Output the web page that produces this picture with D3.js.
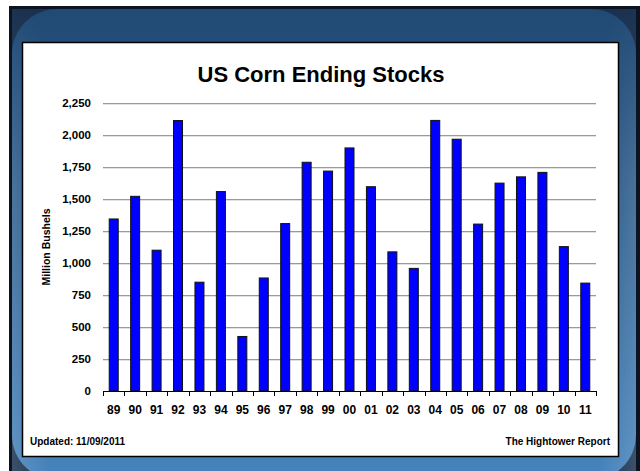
<!DOCTYPE html>
<html><head><meta charset="utf-8">
<script src="https://cdn.jsdelivr.net/npm/d3@7"></script>
<style>body{margin:0;background:#fff}svg{display:block}text{font-family:"Liberation Sans",Arial,sans-serif}</style>
</head><body><div id="c"></div>
<script>
const years = ["89","90","91","92","93","94","95","96","97","98","99","00","01","02","03","04","05","06","07","08","09","10","11"];
const stocks = [1344,1521,1100,2113,850,1558,426,883,1308,1787,1718,1899,1596,1087,958,2114,1967,1304,1624,1673,1708,1128,843];
const yTicks = [0,250,500,750,1000,1250,1500,1750,2000,2250];
const title = "US Corn Ending Stocks";
const yLabel = "Million Bushels";
const footLeft = "Updated: 11/09/2011";
const footRight = "The Hightower Report";

const W=640,H=471;
const svg=d3.select("#c").append("svg").attr("width",W).attr("height",H);
const defs=svg.append("defs");
const g1=defs.append("linearGradient").attr("id","bg").attr("x1",0).attr("y1",0).attr("x2",0).attr("y2",1);
g1.append("stop").attr("offset","0%").attr("stop-color","#214a74");
g1.append("stop").attr("offset","40%").attr("stop-color","#2a5b8a");
g1.append("stop").attr("offset","100%").attr("stop-color","#4684bd");
const g2=defs.append("linearGradient").attr("id","bg2").attr("x1",0).attr("y1",0).attr("x2",1).attr("y2",0);
g2.append("stop").attr("offset","0%").attr("stop-color","#ffffff").attr("stop-opacity",0.15);
g2.append("stop").attr("offset","6%").attr("stop-color","#ffffff").attr("stop-opacity",0);
g2.append("stop").attr("offset","94%").attr("stop-color","#ffffff").attr("stop-opacity",0);
g2.append("stop").attr("offset","100%").attr("stop-color","#ffffff").attr("stop-opacity",0.15);
const g3=defs.append("linearGradient").attr("id","fade").attr("x1",0).attr("y1",0).attr("x2",0).attr("y2",1);
g3.append("stop").attr("offset","0%").attr("stop-color","#fff").attr("stop-opacity",0);
g3.append("stop").attr("offset","40%").attr("stop-color","#fff").attr("stop-opacity",1);
g3.append("stop").attr("offset","100%").attr("stop-color","#fff").attr("stop-opacity",1);
const m=defs.append("mask").attr("id","fm");
m.append("rect").attr("x",0).attr("y",0).attr("width",W).attr("height",H).attr("fill","url(#fade)");

// frame
svg.append("rect").attr("x",9).attr("y",6).attr("width",W).attr("height",H).attr("fill","#0b1420");
svg.append("rect").attr("x",12).attr("y",9).attr("width",W).attr("height",H).attr("fill","#1a3250");
svg.append("rect").attr("x",12).attr("y",9).attr("width",624).attr("height",H).attr("rx",45).attr("fill","url(#bg)");
svg.append("rect").attr("x",12).attr("y",9).attr("width",624).attr("height",H).attr("fill","url(#bg2)").attr("mask","url(#fm)");
svg.append("rect").attr("x",636).attr("y",6).attr("width",4).attr("height",H).attr("fill","#0b1420");

// panel
svg.append("rect").attr("x",22.5).attr("y",42.5).attr("width",596).attr("height",414).attr("fill","#fff").attr("stroke","#000").attr("stroke-width",1.5);

const x0=103,x1=596,y0=391,y1=103;
const x=d3.scaleBand().domain(years).range([x0,x1]).paddingInner(0.58).paddingOuter(0.29);
const xb=d3.scaleBand().domain(years).range([x0,x1]);
const y=d3.scaleLinear().domain([0,2250]).range([y0,y1]);

// gridlines
svg.append("g").selectAll("line").data(yTicks.filter(d=>d>0)).join("line")
 .attr("x1",x0).attr("x2",x1).attr("y1",d=>Math.round(y(d))+0.5).attr("y2",d=>Math.round(y(d))+0.5)
 .attr("stroke","#9a9a9a").attr("stroke-width",1);
svg.append("g").selectAll("line").data(yTicks.filter(d=>d>0)).join("line")
 .attr("x1",x0).attr("x2",x1).attr("y1",d=>Math.round(y(d))+1.5).attr("y2",d=>Math.round(y(d))+1.5)
 .attr("stroke","#e2e2e2").attr("stroke-width",1);

// bars
svg.append("g").selectAll("rect").data(years).join("rect")
 .attr("x",(d)=>x(d)).attr("width",x.bandwidth())
 .attr("y",(d,i)=>y(stocks[i])).attr("height",(d,i)=>y0-y(stocks[i]))
 .attr("fill","#0000ff").attr("stroke","#111").attr("stroke-width",1);

// y axis labels
const ya=svg.append("g").attr("transform",`translate(${x0},0)`)
 .call(d3.axisLeft(y).tickValues(yTicks).tickFormat(d3.format(",")).tickSize(0).tickPadding(12));
ya.select(".domain").remove();
ya.selectAll("text").attr("font-size",11.5).attr("font-weight","bold").attr("fill","#000").attr("font-family","Liberation Sans, Arial, sans-serif");

// x axis
const xa=svg.append("g").attr("transform",`translate(0,${y0})`)
 .call(d3.axisBottom(xb).tickSize(0).tickPadding(14));
xa.select(".domain").attr("stroke","#000");
xa.selectAll("text").attr("font-size",12).attr("font-weight","bold").attr("fill","#000").attr("font-family","Liberation Sans, Arial, sans-serif");
const bounds=years.map(d=>xb(d)).concat([x1]);
svg.append("g").selectAll("line").data(bounds).join("line")
 .attr("x1",d=>Math.round(d)+0.5).attr("x2",d=>Math.round(d)+0.5).attr("y1",y0).attr("y2",y0+5)
 .attr("stroke","#000");

// texts
svg.append("text").attr("x",321).attr("y",82).attr("text-anchor","middle").attr("font-size",22).attr("font-weight","bold").text(title);
svg.append("text").attr("transform",`translate(50,${(y0+y1)/2}) rotate(-90)`).attr("text-anchor","middle").attr("font-size",10.5).attr("font-weight","bold").text(yLabel);
svg.append("text").attr("x",30).attr("y",445).attr("font-size",10).attr("font-weight","bold").text(footLeft);
svg.append("text").attr("x",610).attr("y",445).attr("text-anchor","end").attr("font-size",10).attr("font-weight","bold").text(footRight);
</script></body></html>
